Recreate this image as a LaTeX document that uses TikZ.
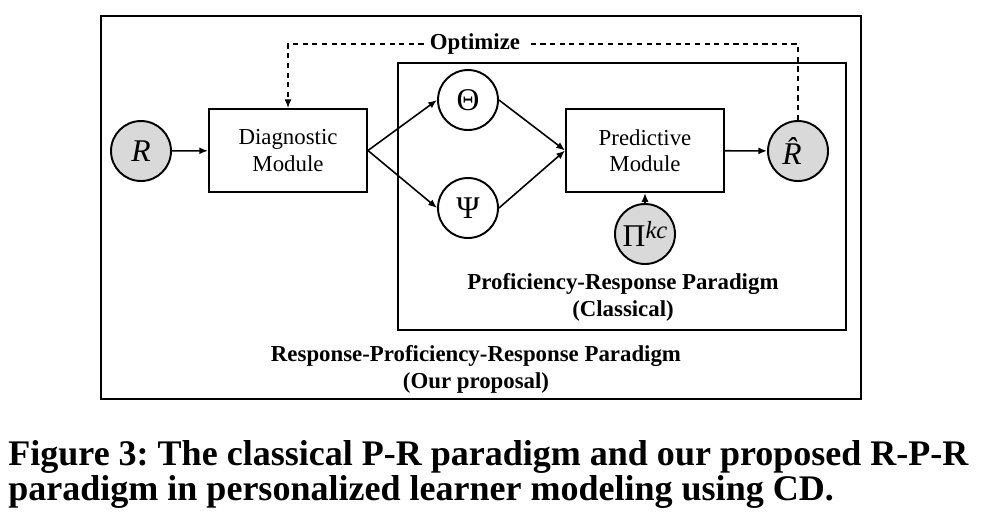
\documentclass[tikz,border=0pt]{standalone}
\usepackage{fontspec}
\setmainfont{Liberation Serif}
\usepackage{graphicx}
\usetikzlibrary{arrows.meta,positioning}
\frenchspacing

\begin{document}
\begin{tikzpicture}[
    x=0.02cm, y=-0.02cm,
    module/.style={rectangle, draw, line width=1.1pt, minimum width=3.16cm, minimum height=1.66cm, align=center, font=\fontsize{13}{15}\selectfont},
    var/.style={circle, draw, line width=1.1pt, minimum size=1.2cm, inner sep=0pt, font=\fontsize{18}{20}\selectfont},
    obs/.style={var, fill=gray!30},
    frame/.style={rectangle, draw, line width=1.1pt, inner sep=0pt},
    arrow/.style={-{Latex[length=5pt,width=4pt]}, line width=0.9pt},
    paradigm/.style={font=\bfseries\fontsize{13}{15.5}\selectfont, align=center},
    captext/.style={anchor=base west, inner sep=0pt, font=\bfseries\fontsize{20.5}{24}\selectfont}
]
    \useasboundingbox (0,0) rectangle (986,522);

    % Frames
    \node[frame, minimum width=15.2cm, minimum height=7.66cm] (outer) at (481,207.5) {};
    \node[frame, minimum width=8.96cm, minimum height=5.34cm] (inner) at (622,196.5) {};

    % Nodes
    \node[obs] (r) at (141,151) {\textit{R}};
    \node[module] (diag) at (288,150.5) {Diagnostic\\Module};
    \node[var] (theta) at (468,100) {Θ};
    \node[var] (psi) at (468,208) {Ψ};
    \node[module] (pred) at (645,150.5) {Predictive\\Module};
    \node[obs] (rhat) at (798,151) {\textit{\^{R}}};
    \node[obs] (pi) at (645,234) {Π\raisebox{0.55ex}{\fontsize{14}{16}\selectfont\textit{kc}}};
    \node[paradigm] (opt) at (475,44) {Optimize};

    % Connectors
    \draw[arrow] (r) -- (diag);
    \draw[arrow] (diag.east) -- (theta.west);
    \draw[arrow] (diag.east) -- (psi.west);
    \draw[arrow] (theta.east) -- (pred.west);
    \draw[arrow] (psi.east) -- (pred.west);
    \draw[arrow] (pred) -- (rhat);
    \draw[arrow] (pi) -- (pred);
    \draw[line width=0.8pt, dash pattern=on 3pt off 2.5pt] (rhat.north) |- (opt.east);
    \draw[arrow, line width=0.8pt, dash pattern=on 3pt off 2.5pt] (opt.west) -| (diag.north);

    % Paradigm labels
    \node[paradigm] (prlabel) at (623,297) {Proficiency-Response Paradigm\\(Classical)};
    \node[paradigm] (rprlabel) at (476,369) {Response-Proficiency-Response Paradigm\\(Our proposal)};

    % Caption
    \node[captext] (cap1) at (8,465) {Figure 3: The classical P-R paradigm and our proposed R-P-R};
    \node[captext] (cap2) at (8,500) {paradigm in personalized learner modeling using CD.};
\end{tikzpicture}
\end{document}
